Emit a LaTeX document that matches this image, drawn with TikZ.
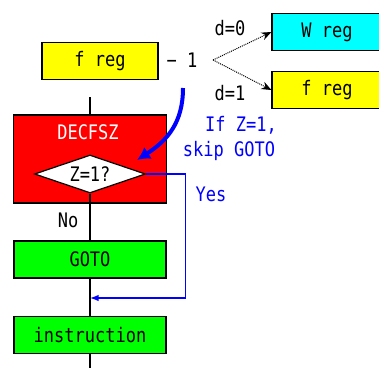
\documentclass[tikz,border=0pt]{standalone}
\usepackage{fontspec}
\newfontfamily\boxfont[FakeStretch=0.85]{DejaVu Sans Mono}
\usetikzlibrary{shapes.geometric,arrows.meta,positioning}
\definecolor{regyellow}{RGB}{255,255,0}
\definecolor{wcyan}{RGB}{0,255,255}
\definecolor{opgreen}{RGB}{0,255,0}
\definecolor{decred}{RGB}{255,0,0}
\definecolor{skipblue}{RGB}{0,0,255}

\begin{document}
\begin{tikzpicture}[
  x=1pt, y=-1pt,
  font=\boxfont\fontsize{20}{22}\selectfont,
  box/.style={rectangle, draw, line width=1.2pt, minimum height=37pt, inner sep=0pt},
  reg/.style={box, fill=regyellow},
  wbox/.style={box, fill=wcyan},
  op/.style={box, fill=opgreen, minimum width=152pt},
  cond/.style={diamond, draw, fill=white, line width=1.2pt, aspect=2.9,
               inner sep=1pt, minimum width=111pt, minimum height=38pt},
  skip/.style={skipblue},
  flow/.style={line width=1.2pt},
  arr/.style={-{Stealth[length=3.5mm,width=2.8mm]}, densely dotted, line width=1pt}]
  \clip (0,0) rectangle (379,367);
  % register part
  \node[reg, minimum width=116pt] (freg) at (100,61) {f reg};
  \node[inner sep=1pt] (minus) at (182,60) {− 1};
  \coordinate (fork) at (213,60);
  \node[wbox, minimum width=110pt] (wreg) at (327,32) {W reg};
  \node[reg, minimum width=110pt] (fdest) at (327,90) {f reg};
  \node (dzero) at (230,28) {d=0};
  \node (done) at (230,93) {d=1};
  \draw[arr] (fork) -- (wreg.west);
  \draw[arr] (fork) -- (fdest.west);
  % flow part
  \coordinate (entry) at (90,97);
  \node[box, fill=decred, minimum width=153pt, minimum height=88pt] (decfsz) at (90,159) {};
  \node[white] (dectitle) at (88,132) {DECFSZ};
  \node[cond] (test) at (90,174) {Z=1?};
  \node[op] (goto) at (90,259.5) {GOTO};
  \node[op] (instr) at (90,335) {instruction};
  \coordinate (merge) at (90,298);
  \coordinate (exit) at (90,372);
  \node (no) at (68,220) {No};
  \draw[flow] (entry) -- (decfsz.north);
  \draw[flow] (test.south) -- (goto.north);
  \draw[flow] (goto.south) -- (instr.north);
  \draw[flow] (instr.south) -- (exit);
  % skip path
  \draw[skip, line width=1.2pt, -{Latex[length=3mm]}] (test.east) -- ++(39,0) |- (merge);
  \node[skip] (yes) at (211,194) {Yes};
  \node[skip] (iftext) at (241,125) {If Z=1,};
  \node[skip] (skiptext) at (229,151) {skip GOTO};
  \coordinate (hintstart) at (183,88);
  \coordinate (hinttip) at (137,160);
  \draw[skip, line width=4pt, -{Latex[length=13pt,width=14pt]}]
    (hintstart) .. controls (183,122) and (168,140) .. (hinttip);
\end{tikzpicture}
\end{document}
